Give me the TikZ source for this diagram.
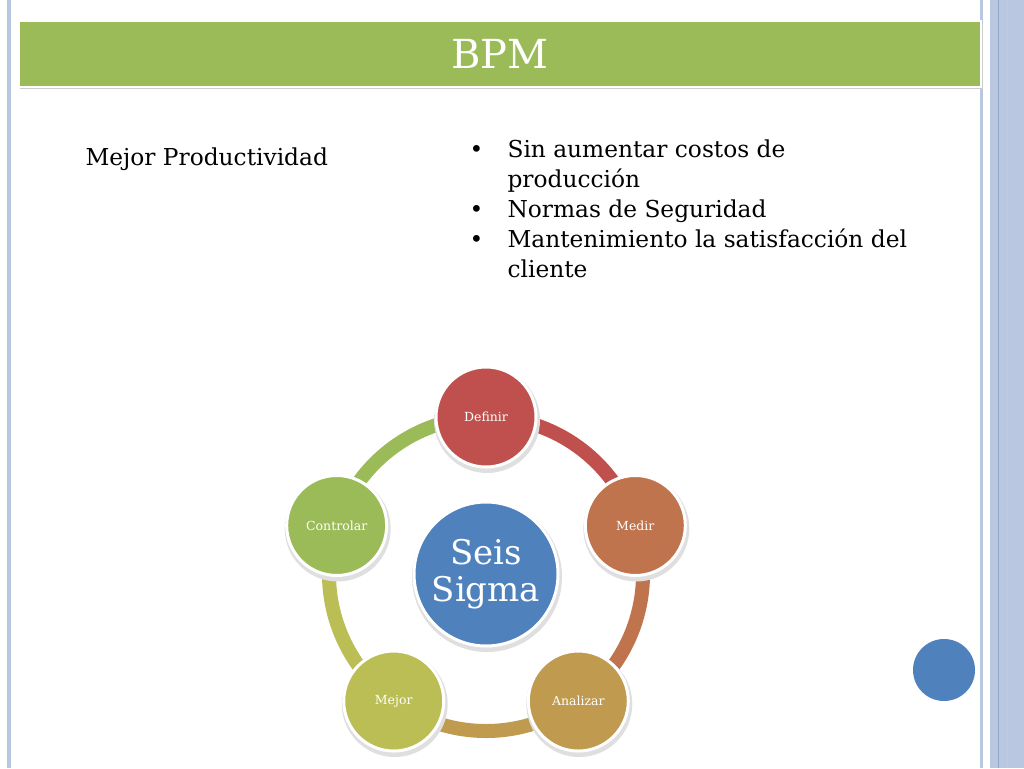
\documentclass[tikz,border=0pt]{standalone}
\usepackage{fontspec}
\setmainfont{DejaVu Serif}
\usetikzlibrary{calc}
\definecolor{barg}{HTML}{9BBB59}
\definecolor{edgeb}{HTML}{B9C7E0}
\definecolor{edgebd}{HTML}{8FA6CF}
\definecolor{cred}{HTML}{C0504D}
\definecolor{cora}{HTML}{C0744D}
\definecolor{ctan}{HTML}{BF9A4F}
\definecolor{colv}{HTML}{BBBD55}
\definecolor{cgrn}{HTML}{9BBB59}
\definecolor{cblu}{HTML}{4F81BD}
\tikzset{
 stage/.style={circle,draw=white,line width=3pt,minimum size=100pt,inner sep=0pt,text=white,font=\fontsize{12.5}{14}\selectfont},
 shad/.style={circle,fill=gray!25,inner sep=0pt},
 ring/.style={line width=14pt}
}
\begin{document}
\begin{tikzpicture}[x=1pt,y=-1pt]
\useasboundingbox (0,0) rectangle (1024,768);
\fill[white] (0,0) rectangle (1024,768);
% borders
\fill[edgeb] (7,0) rectangle (11,768);
\fill[edgeb] (980,0) rectangle (983,768);
\fill[edgeb] (990,0) rectangle (1024,768);
\draw[edgebd,line width=0.8pt] (998,0) -- (998,768);
\draw[edgebd!60,line width=0.6pt] (1007,0) -- (1007,768);
% title bar
\fill[gray!40] (20,23) rectangle (983,89);
\node[draw=white,line width=2pt,fill=barg,minimum width=962pt,minimum height=66pt,anchor=north west,inner sep=0pt] (bar) at (18,20) {};
\node[text=white,font=\fontsize{40}{44}\selectfont] (title) at (500,54) {BPM};
% texts
\node[anchor=west,font=\fontsize{23.3}{28}\selectfont] (mp) at (82,159) {Mejor Productividad};
\node[anchor=north west,font=\fontsize{23.3}{30}\selectfont,align=left] (bul) at (466,136) {%
\makebox[38pt][l]{\textbullet}Sin aumentar costos de\\
\makebox[38pt][l]{}producción\\
\makebox[38pt][l]{\textbullet}Normas de Seguridad\\
\makebox[38pt][l]{\textbullet}Mantenimiento la satisfacción del\\
\makebox[38pt][l]{}cliente};
% ring
\coordinate (c) at (486,574);
\draw[ring,cred] ($(c)+(-90:157)$) arc[start angle=-90,end angle=-18,radius=157];
\draw[ring,cora] ($(c)+(-18:157)$) arc[start angle=-18,end angle=54,radius=157];
\draw[ring,ctan] ($(c)+(54:157)$) arc[start angle=54,end angle=126,radius=157];
\draw[ring,colv] ($(c)+(126:157)$) arc[start angle=126,end angle=198,radius=157];
\draw[ring,cgrn] ($(c)+(198:157)$) arc[start angle=198,end angle=270,radius=157];
\foreach \a in {-90,-18,54,126,198}{\node[shad,minimum size=106pt] at ($(c)+(\a:157)+(1,3)$) {};}
\node[shad,minimum size=150pt] at ($(c)+(1,3)$) {};
\node[stage,fill=cblu,minimum size=144pt,font=\fontsize{34}{37}\selectfont,align=center] (seis) at (c) {Seis\\Sigma};
\node[stage,fill=cred] (def) at ($(c)+(-90:157)$) {Definir};
\node[stage,fill=cora] (med) at ($(c)+(-18:157)$) {Medir};
\node[stage,fill=ctan] (ana) at ($(c)+(54:157)$) {Analizar};
\node[stage,fill=colv] (mej) at ($(c)+(126:157)$) {Mejor};
\node[stage,fill=cgrn] (con) at ($(c)+(198:157)$) {Controlar};
\node[circle,fill=cblu,minimum size=62pt,inner sep=0pt] (dot) at (944,670) {};
\end{tikzpicture}
\end{document}
